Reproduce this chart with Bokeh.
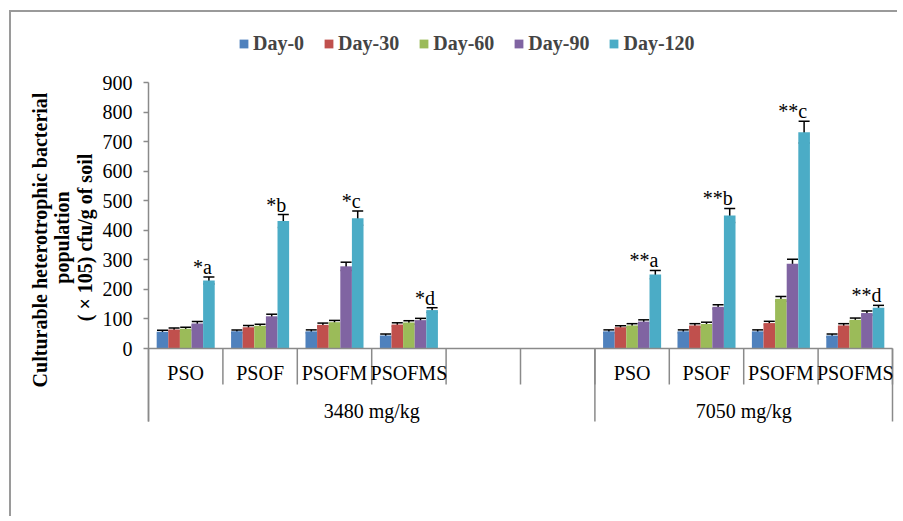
import math
import numpy as np
from bokeh.plotting import figure
from bokeh.models import (Range1d, FixedTicker, Whisker, TeeHead, ColumnDataSource,
                          Legend, LegendItem, Label, LinearAxis)
from bokeh.core.properties import value
from bokeh.embed import file_html
from bokeh.resources import INLINE

# ---------------- data ----------------
categories = ["PSO", "PSOF", "PSOFM", "PSOFMS", "", "", "PSO", "PSOF", "PSOFM", "PSOFMS"]
groups = ["3480 mg/kg", "7050 mg/kg"]
group_sizes = [6, 4]
days = ["Day-0", "Day-30", "Day-60", "Day-90", "Day-120"]
nan = float("nan")

day0 = [57, 58, 58, 44, nan, nan, 58, 58, 58, 44]
day30 = [64, 72, 80, 81, nan, nan, 72, 78, 86, 78]
day60 = [67, 77, 89, 88, nan, nan, 78, 83, 168, 97]
day90 = [85, 109, 278, 96, nan, nan, 91, 141, 287, 120]
day120 = [230, 431, 441, 130, nan, nan, 250, 450, 732, 138]

err0 = [5, 5, 5, 5, nan, nan, 5, 5, 5, 5]
err30 = [5, 6, 6, 6, nan, nan, 5, 6, 6, 6]
err60 = [5, 5, 6, 6, nan, nan, 6, 6, 8, 6]
err90 = [6, 7, 14, 6, nan, nan, 6, 7, 15, 7]
err120 = [12, 22, 24, 8, nan, nan, 14, 24, 37, 8]

sig_labels = ["*a", "*b", "*c", "*d", "", "", "**a", "**b", "**c", "**d"]

y_ticks = [0, 100, 200, 300, 400, 500, 600, 700, 800, 900]
y_max = 900

series = [day0, day30, day60, day90, day120]
errors = [err0, err30, err60, err90, err120]
colors = ["#4F81BD", "#C0504D", "#9BBB59", "#8064A2", "#4BACC6"]

# ---------------- layout (pixels) ----------------
FONT = "Liberation Serif"
W, H = 888, 506            # figure size; frame fills the whole figure
ax_left, ax_top, ax_bottom = 137, 70, 336   # plot area inside the figure (px)
slot_px = 74.4
ppu = (ax_bottom - ax_top) / y_max          # pixels per data unit
n = len(categories)

x_start = -ax_left / slot_px
x_end = x_start + W / slot_px
y_start = -(H - ax_bottom) / ppu
y_end = y_max + ax_top / ppu
cat_sep = -36 / ppu
grp_sep = -73 / ppu

p = figure(width=W, height=H,
           x_range=Range1d(x_start, x_end), y_range=Range1d(y_start, y_end),
           output_backend="svg", toolbar_location=None,
           x_axis_type=None, y_axis_type=None,
           min_border=0, min_border_left=0, min_border_right=0,
           min_border_top=0, min_border_bottom=0)
p.styles = {"margin-left": "9px", "margin-top": "10px",
            "border-left": "2px solid #9a9a9a", "border-top": "2px solid #9a9a9a"}
p.grid.visible = False
p.outline_line_color = None
p.background_fill_color = "white"

axis_col = "#8a8a8a"
ya = LinearAxis(fixed_location=0, bounds=(grp_sep, y_max),
                ticker=FixedTicker(ticks=y_ticks))
ya.axis_line_color = axis_col
ya.axis_line_width = 1.5
ya.major_tick_line_color = axis_col
ya.major_tick_line_width = 1.5
ya.major_tick_out = 5
ya.major_tick_in = 0
ya.minor_tick_line_color = None
ya.major_label_text_font = FONT
ya.major_label_text_font_size = "20px"
ya.major_label_text_color = "black"
ya.major_label_standoff = 11
p.add_layout(ya, "left")

# ---------------- bars ----------------
bw = 0.156
centers = np.arange(n) + 0.5
items = []
for j, (vals, errs, col, name) in enumerate(zip(series, errors, colors, days)):
    v = np.array(vals, dtype=float)
    e = np.array(errs, dtype=float)
    mask = ~np.isnan(v)
    xs = centers[mask] + (j - 2) * bw
    src = ColumnDataSource(dict(x=xs, top=v[mask], upper=v[mask] + e[mask],
                                lower=v[mask] - e[mask]))
    r = p.vbar(x="x", top="top", bottom=0, width=bw, source=src,
               fill_color=col, line_color=None)
    items.append(LegendItem(label=name, renderers=[r]))
    w = Whisker(base="x", upper="upper", lower="lower", source=src,
                line_color="black", line_width=1.5,
                upper_head=TeeHead(size=11, line_color="black", line_width=1.5),
                lower_head=TeeHead(size=11, line_color="black", line_width=1.5))
    p.add_layout(w)

# significance labels above Day-120 bars
v120 = np.array(day120, dtype=float)
e120 = np.array(err120, dtype=float)
m = ~np.isnan(v120)
lab_src = ColumnDataSource(dict(x=centers[m] + 2 * bw, y=v120[m] + e120[m],
                                t=[s for s, k in zip(sig_labels, m) if k]))
p.text(x="x", y="y", text="t", source=lab_src, text_align="right",
       text_baseline="alphabetic", x_offset=3, y_offset=-10,
       text_font=value(FONT), text_font_size="20px", text_color="black")

# ---------------- category axis (drawn) ----------------
p.segment(x0=[0], y0=[0], x1=[n], y1=[0], line_color=axis_col, line_width=1.5)
bounds = np.arange(1, n + 1)
p.segment(x0=bounds, y0=np.zeros(len(bounds)), x1=bounds,
          y1=np.full(len(bounds), cat_sep), line_color=axis_col, line_width=1.5)
gb = np.cumsum([0] + group_sizes)
p.segment(x0=gb, y0=np.zeros(len(gb)), x1=gb, y1=np.full(len(gb), grp_sep),
          line_color=axis_col, line_width=1.5)

p.text(x=centers, y=np.zeros(n), text=categories, text_align="center",
       text_baseline="middle", y_offset=24, text_font=value(FONT),
       text_font_size="20px", text_color="black")
gcenters = (gb[:-1] + gb[1:]) / 2.0
p.text(x=gcenters, y=np.zeros(len(groups)), text=groups, text_align="center",
       text_baseline="middle", y_offset=62, text_font=value(FONT),
       text_font_size="20px", text_color="black")

# ---------------- y title ----------------
title_lines = ["Culturable  heterotrophic bacterial", "population", "( \u00d7 105) cfu/g of soil"]
for k, t in enumerate(title_lines):
    p.add_layout(Label(x=28 + 22.7 * k, y=281, x_units="screen", y_units="screen",
                       text=t, angle=math.pi / 2, text_align="center",
                       text_baseline="alphabetic", text_font=FONT,
                       text_font_style="bold", text_font_size="20px",
                       text_color="black"))

# ---------------- legend ----------------
legend = Legend(items=items, location=(227, 463), orientation="horizontal",
                border_line_alpha=0, background_fill_alpha=0, padding=0, margin=0,
                spacing=19, label_standoff=4, glyph_width=11, glyph_height=11,
                label_text_font=FONT, label_text_font_style="bold",
                label_text_font_size="20px", label_height=20)
p.add_layout(legend)

open("out.html", "w").write(file_html(p, INLINE))
